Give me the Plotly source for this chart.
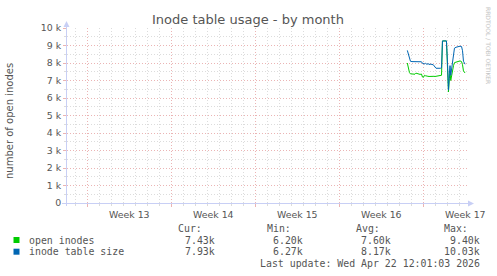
import plotly.graph_objects as go

# ---- data (x in days from the left edge of the 33-day window) ----
days = [28.36, 28.46, 28.54, 28.62, 28.75, 28.92, 29.00, 29.08, 29.25, 29.42,
        29.54, 29.62, 29.71, 29.79, 29.88, 30.00, 30.08, 30.17, 30.25, 30.33,
        30.42, 30.50, 30.58, 30.67, 30.75, 31.12, 31.21, 31.29, 31.62, 31.71,
        31.79, 31.86, 31.92, 31.98, 32.04, 32.12, 32.21, 32.29, 32.42, 32.58,
        32.75, 32.88, 32.96, 33.04, 33.17]
inode_table_size = [8720, 8450, 8220, 8100, 8080, 8080, 8070, 8080, 8070, 8080,
                    8070, 7980, 7960, 7950, 7980, 7920, 7960, 7930, 7910, 7950,
                    7900, 7920, 7860, 7750, 7700, 7700, 7720, 9260, 9260, 8000,
                    6450, 7400, 7850, 7300, 7650, 8000, 8600, 8850, 8900, 8930,
                    8960, 8940, 8700, 8100, 7930]
open_inodes = [8000, 7620, 7450, 7380, 7370, 7380, 7360, 7420, 7370, 7350,
               7370, 7200, 7180, 7300, 7270, 7230, 7240, 7230, 7240, 7220,
               7240, 7230, 7240, 7230, 7240, 7250, 7300, 9260, 9260, 7700,
               6350, 7100, 7500, 7000, 7300, 7600, 7850, 8020, 8050, 8100,
               8120, 8080, 7900, 7550, 7430]

week_starts = [1.69, 8.69, 15.69, 22.69, 29.69]
week_labels = ["Week 13", "Week 14", "Week 15", "Week 16", "Week 17"]
y_ticks = [0, 1000, 2000, 3000, 4000, 5000, 6000, 7000, 8000, 9000, 10000]
y_tick_labels = ["0", "1 k", "2 k", "3 k", "4 k", "5 k", "6 k", "7 k", "8 k", "9 k", "10 k"]

series_names = ["open inodes", "inode table size"]
series_colors = ["#00CC00", "#0066B3"]
cur_vals = ["7.43k", "7.93k"]
min_vals = ["6.20k", "6.27k"]
avg_vals = ["7.60k", "8.17k"]
max_vals = ["9.40k", "10.03k"]

# ---- layout geometry ----
W, H = 497, 276
L, R, T, B = 67, 30, 28, 73
PW, PH = W - L - R, H - T - B


def px(x):
    return (x - L) / PW


def py(y):
    return (H - B - y) / PH


FONT = "DejaVu Sans"
MONO = "DejaVu Sans Mono"
TXT = "#555555"
MGRID = "#EBB4B4"
GRID = "#DCDCDC"
AXIS = "#C8CFF5"

fig = go.Figure()
fig.add_trace(go.Scatter(x=days, y=open_inodes, mode="lines",
                         line=dict(color=series_colors[0], width=1),
                         name=series_names[0], hoverinfo="skip"))
fig.add_trace(go.Scatter(x=days, y=inode_table_size, mode="lines",
                         line=dict(color=series_colors[1], width=1),
                         name=series_names[1], hoverinfo="skip"))

fig.update_layout(
    width=W, height=H, margin=dict(l=L, r=R, t=T, b=B),
    paper_bgcolor="white", plot_bgcolor="white", showlegend=False,
    font=dict(family=FONT, color=TXT, size=9.4),
)
fig.update_xaxes(
    range=[0, PW / 12], tickvals=week_starts, ticktext=week_labels,
    ticklabelshift=42, showgrid=True, gridcolor=MGRID, griddash="1px,2px",
    gridwidth=1, ticks="outside", ticklen=3, tickcolor=MGRID,
    tickfont=dict(family=FONT, size=9.4, color=TXT),
    minor=dict(tick0=0.69, dtick=1, showgrid=True, gridcolor=GRID,
               griddash="1px,2px", ticks="outside", ticklen=2, tickcolor=GRID),
    zeroline=False, showline=False, fixedrange=True,
)
fig.update_yaxes(
    range=[0, 10000], tickvals=y_ticks, ticktext=y_tick_labels,
    showgrid=True, gridcolor=MGRID, griddash="1px,2px", gridwidth=1,
    ticks="outside", ticklen=3, tickcolor=MGRID,
    tickfont=dict(family=FONT, size=9.4, color=TXT),
    minor=dict(tick0=0, dtick=500, showgrid=True, gridcolor=GRID,
               griddash="1px,2px", ticks="outside", ticklen=2, tickcolor=GRID),
    zeroline=False, showline=False, fixedrange=True,
)

shapes = []
# axes with arrows
shapes.append(dict(type="line", xref="paper", yref="paper",
                   x0=px(62), x1=px(469), y0=py(203.5), y1=py(203.5),
                   line=dict(color=AXIS, width=1)))
shapes.append(dict(type="line", xref="paper", yref="paper",
                   x0=px(66.5), x1=px(66.5), y0=py(206), y1=py(26),
                   line=dict(color=AXIS, width=1)))
shapes.append(dict(type="path", xref="paper", yref="paper",
                   path=f"M {px(468)} {py(200.5)} L {px(474)} {py(203.5)} L {px(468)} {py(206.5)} Z",
                   fillcolor=AXIS, line=dict(width=0)))
shapes.append(dict(type="path", xref="paper", yref="paper",
                   path=f"M {px(63.5)} {py(27)} L {px(66.5)} {py(21)} L {px(69.5)} {py(27)} Z",
                   fillcolor=AXIS, line=dict(width=0)))
# legend squares
for i, c in enumerate(series_colors):
    yc = 240 + i * 11.7
    shapes.append(dict(type="rect", xref="paper", yref="paper",
                       x0=px(13.5), x1=px(19.5), y0=py(yc - 3), y1=py(yc + 3),
                       fillcolor=c, line=dict(width=0)))
fig.update_layout(shapes=shapes)

ann = []
ann.append(dict(text="Inode table usage - by month", x=px(248), y=py(20),
                xref="paper", yref="paper", showarrow=False, xanchor="center",
                yanchor="middle", font=dict(family=FONT, size=13, color=TXT)))
ann.append(dict(text="number of open inodes", x=px(10), y=py(121),
                xref="paper", yref="paper", showarrow=False, textangle=-90,
                xanchor="center", yanchor="middle",
                font=dict(family=FONT, size=10, color=TXT)))
ann.append(dict(text="RRDTOOL / TOBI OETIKER", x=px(489), y=py(45),
                xref="paper", yref="paper", showarrow=False, textangle=90,
                xanchor="center", yanchor="middle",
                font=dict(family=FONT, size=6, color="#C4C4C4")))

mono = dict(family=MONO, size=9.9, color=TXT)
headers = ["Cur:", "Min:", "Avg:", "Max:"]
header_x = [204, 293, 381.7, 470]
col_x = [216.7, 305, 393.3, 482.3]
cols = [cur_vals, min_vals, avg_vals, max_vals]
for h, hx in zip(headers, header_x):
    ann.append(dict(text=h, x=px(hx), y=py(228), xref="paper", yref="paper",
                    showarrow=False, xanchor="right", yanchor="middle", font=mono))
for i, name in enumerate(series_names):
    yc = 240 + i * 11.7
    ann.append(dict(text=name, x=px(26.7), y=py(yc), xref="paper", yref="paper",
                    showarrow=False, xanchor="left", yanchor="middle", font=mono))
    for cx, vals in zip(col_x, cols):
        ann.append(dict(text=vals[i], x=px(cx), y=py(yc), xref="paper",
                        yref="paper", showarrow=False, xanchor="right",
                        yanchor="middle", font=mono))
ann.append(dict(text="Last update: Wed Apr 22 12:01:03 2026", x=px(482.3),
                y=py(263.3), xref="paper", yref="paper", showarrow=False,
                xanchor="right", yanchor="middle", font=mono))
fig.update_layout(annotations=ann)

fig.write_html("out.html", config={"displayModeBar": False})
